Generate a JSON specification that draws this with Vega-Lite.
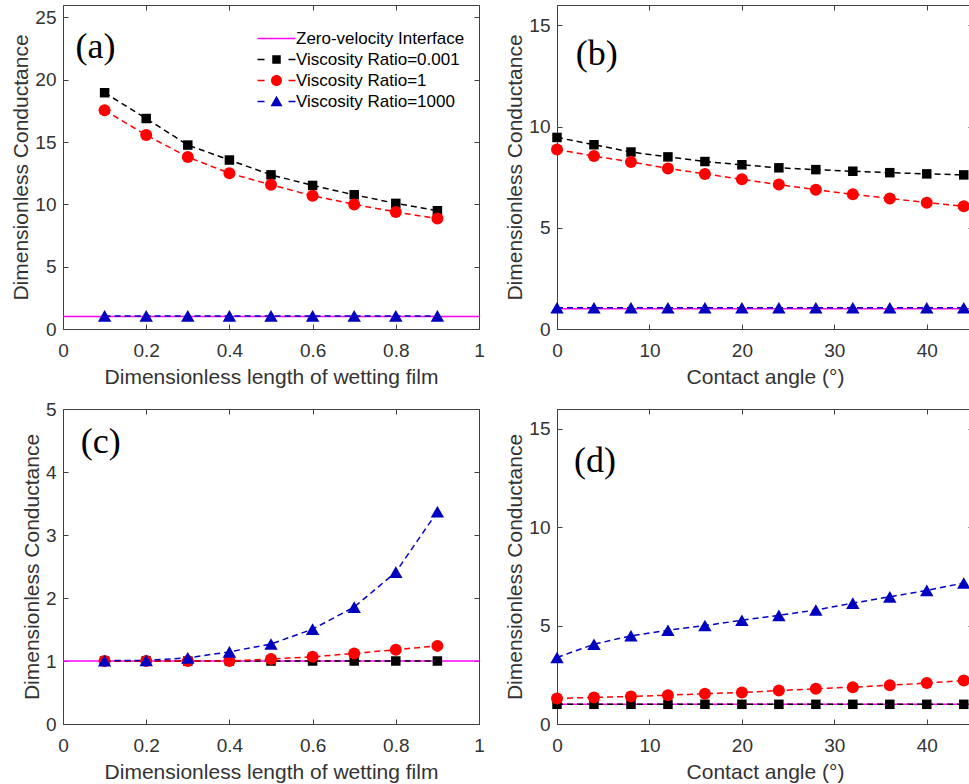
{
  "$schema": "https://vega.github.io/schema/vega-lite/v6.json",
  "padding": {"left": 10, "top": 4, "right": 0, "bottom": 0},
  "background": "white",
  "config": {
    "view": {"stroke": "#404040", "strokeWidth": 1},
    "font": "Liberation Sans",
    "axis": {"grid": false, "domain": false, "tickColor": "#404040", "tickSize": -5, "tickWidth": 1, "labelFlush": false,
      "labelFont": "Liberation Sans", "labelFontSize": 19, "labelColor": "#333333",
      "titleFont": "Liberation Sans", "titleFontSize": 21, "titleFontWeight": "normal", "titleColor": "#333333"},
    "axisX": {"labelPadding": 17, "titlePadding": 6},
    "axisY": {"labelPadding": 12, "titlePadding": 3}
  },
  "datasets": {
    "a": [
      {"x": 0.1, "y": 18.96, "series": "Viscosity Ratio=0.001"}, {"x": 0.2, "y": 16.89, "series": "Viscosity Ratio=0.001"}, {"x": 0.3, "y": 14.76, "series": "Viscosity Ratio=0.001"}, {"x": 0.4, "y": 13.56, "series": "Viscosity Ratio=0.001"}, {"x": 0.5, "y": 12.37, "series": "Viscosity Ratio=0.001"}, {"x": 0.6, "y": 11.52, "series": "Viscosity Ratio=0.001"}, {"x": 0.7, "y": 10.77, "series": "Viscosity Ratio=0.001"}, {"x": 0.8, "y": 10.08, "series": "Viscosity Ratio=0.001"}, {"x": 0.9, "y": 9.49, "series": "Viscosity Ratio=0.001"},
      {"x": 0.1, "y": 17.55, "series": "Viscosity Ratio=1"}, {"x": 0.2, "y": 15.56, "series": "Viscosity Ratio=1"}, {"x": 0.3, "y": 13.8, "series": "Viscosity Ratio=1"}, {"x": 0.4, "y": 12.5, "series": "Viscosity Ratio=1"}, {"x": 0.5, "y": 11.57, "series": "Viscosity Ratio=1"}, {"x": 0.6, "y": 10.69, "series": "Viscosity Ratio=1"}, {"x": 0.7, "y": 10.0, "series": "Viscosity Ratio=1"}, {"x": 0.8, "y": 9.39, "series": "Viscosity Ratio=1"}, {"x": 0.9, "y": 8.86, "series": "Viscosity Ratio=1"},
      {"x": 0.1, "y": 1.05, "series": "Viscosity Ratio=1000"}, {"x": 0.2, "y": 1.05, "series": "Viscosity Ratio=1000"}, {"x": 0.3, "y": 1.05, "series": "Viscosity Ratio=1000"}, {"x": 0.4, "y": 1.05, "series": "Viscosity Ratio=1000"}, {"x": 0.5, "y": 1.05, "series": "Viscosity Ratio=1000"}, {"x": 0.6, "y": 1.05, "series": "Viscosity Ratio=1000"}, {"x": 0.7, "y": 1.05, "series": "Viscosity Ratio=1000"}, {"x": 0.8, "y": 1.05, "series": "Viscosity Ratio=1000"}, {"x": 0.9, "y": 1.05, "series": "Viscosity Ratio=1000"}
    ],
    "b": [
      {"x": 0, "y": 9.46, "series": "Viscosity Ratio=0.001"}, {"x": 4, "y": 9.1, "series": "Viscosity Ratio=0.001"}, {"x": 8, "y": 8.74, "series": "Viscosity Ratio=0.001"}, {"x": 12, "y": 8.5, "series": "Viscosity Ratio=0.001"}, {"x": 16, "y": 8.27, "series": "Viscosity Ratio=0.001"}, {"x": 20, "y": 8.11, "series": "Viscosity Ratio=0.001"}, {"x": 24, "y": 7.96, "series": "Viscosity Ratio=0.001"}, {"x": 28, "y": 7.87, "series": "Viscosity Ratio=0.001"}, {"x": 32, "y": 7.79, "series": "Viscosity Ratio=0.001"}, {"x": 36, "y": 7.72, "series": "Viscosity Ratio=0.001"}, {"x": 40, "y": 7.66, "series": "Viscosity Ratio=0.001"}, {"x": 44, "y": 7.61, "series": "Viscosity Ratio=0.001"},
      {"x": 0, "y": 8.86, "series": "Viscosity Ratio=1"}, {"x": 4, "y": 8.54, "series": "Viscosity Ratio=1"}, {"x": 8, "y": 8.25, "series": "Viscosity Ratio=1"}, {"x": 12, "y": 7.93, "series": "Viscosity Ratio=1"}, {"x": 16, "y": 7.66, "series": "Viscosity Ratio=1"}, {"x": 20, "y": 7.39, "series": "Viscosity Ratio=1"}, {"x": 24, "y": 7.13, "series": "Viscosity Ratio=1"}, {"x": 28, "y": 6.88, "series": "Viscosity Ratio=1"}, {"x": 32, "y": 6.65, "series": "Viscosity Ratio=1"}, {"x": 36, "y": 6.45, "series": "Viscosity Ratio=1"}, {"x": 40, "y": 6.24, "series": "Viscosity Ratio=1"}, {"x": 44, "y": 6.06, "series": "Viscosity Ratio=1"},
      {"x": 0, "y": 1.05, "series": "Viscosity Ratio=1000"}, {"x": 4, "y": 1.05, "series": "Viscosity Ratio=1000"}, {"x": 8, "y": 1.05, "series": "Viscosity Ratio=1000"}, {"x": 12, "y": 1.05, "series": "Viscosity Ratio=1000"}, {"x": 16, "y": 1.05, "series": "Viscosity Ratio=1000"}, {"x": 20, "y": 1.05, "series": "Viscosity Ratio=1000"}, {"x": 24, "y": 1.05, "series": "Viscosity Ratio=1000"}, {"x": 28, "y": 1.05, "series": "Viscosity Ratio=1000"}, {"x": 32, "y": 1.05, "series": "Viscosity Ratio=1000"}, {"x": 36, "y": 1.05, "series": "Viscosity Ratio=1000"}, {"x": 40, "y": 1.05, "series": "Viscosity Ratio=1000"}, {"x": 44, "y": 1.05, "series": "Viscosity Ratio=1000"}
    ],
    "c": [
      {"x": 0.1, "y": 1.0, "series": "Viscosity Ratio=0.001"}, {"x": 0.2, "y": 1.0, "series": "Viscosity Ratio=0.001"}, {"x": 0.3, "y": 1.0, "series": "Viscosity Ratio=0.001"}, {"x": 0.4, "y": 1.0, "series": "Viscosity Ratio=0.001"}, {"x": 0.5, "y": 1.0, "series": "Viscosity Ratio=0.001"}, {"x": 0.6, "y": 1.0, "series": "Viscosity Ratio=0.001"}, {"x": 0.7, "y": 1.0, "series": "Viscosity Ratio=0.001"}, {"x": 0.8, "y": 1.0, "series": "Viscosity Ratio=0.001"}, {"x": 0.9, "y": 1.0, "series": "Viscosity Ratio=0.001"},
      {"x": 0.1, "y": 1.0, "series": "Viscosity Ratio=1"}, {"x": 0.2, "y": 1.0, "series": "Viscosity Ratio=1"}, {"x": 0.3, "y": 1.0, "series": "Viscosity Ratio=1"}, {"x": 0.4, "y": 1.0, "series": "Viscosity Ratio=1"}, {"x": 0.5, "y": 1.03, "series": "Viscosity Ratio=1"}, {"x": 0.6, "y": 1.066, "series": "Viscosity Ratio=1"}, {"x": 0.7, "y": 1.12, "series": "Viscosity Ratio=1"}, {"x": 0.8, "y": 1.18, "series": "Viscosity Ratio=1"}, {"x": 0.9, "y": 1.24, "series": "Viscosity Ratio=1"},
      {"x": 0.1, "y": 1.005, "series": "Viscosity Ratio=1000"}, {"x": 0.2, "y": 1.01, "series": "Viscosity Ratio=1000"}, {"x": 0.3, "y": 1.05, "series": "Viscosity Ratio=1000"}, {"x": 0.4, "y": 1.145, "series": "Viscosity Ratio=1000"}, {"x": 0.5, "y": 1.27, "series": "Viscosity Ratio=1000"}, {"x": 0.6, "y": 1.506, "series": "Viscosity Ratio=1000"}, {"x": 0.7, "y": 1.856, "series": "Viscosity Ratio=1000"}, {"x": 0.8, "y": 2.41, "series": "Viscosity Ratio=1000"}, {"x": 0.9, "y": 3.37, "series": "Viscosity Ratio=1000"}
    ],
    "d": [
      {"x": 0, "y": 1.0, "series": "Viscosity Ratio=0.001"}, {"x": 4, "y": 1.0, "series": "Viscosity Ratio=0.001"}, {"x": 8, "y": 1.0, "series": "Viscosity Ratio=0.001"}, {"x": 12, "y": 1.0, "series": "Viscosity Ratio=0.001"}, {"x": 16, "y": 1.0, "series": "Viscosity Ratio=0.001"}, {"x": 20, "y": 1.0, "series": "Viscosity Ratio=0.001"}, {"x": 24, "y": 1.0, "series": "Viscosity Ratio=0.001"}, {"x": 28, "y": 1.0, "series": "Viscosity Ratio=0.001"}, {"x": 32, "y": 1.0, "series": "Viscosity Ratio=0.001"}, {"x": 36, "y": 1.0, "series": "Viscosity Ratio=0.001"}, {"x": 40, "y": 1.0, "series": "Viscosity Ratio=0.001"}, {"x": 44, "y": 1.0, "series": "Viscosity Ratio=0.001"},
      {"x": 0, "y": 1.3, "series": "Viscosity Ratio=1"}, {"x": 4, "y": 1.35, "series": "Viscosity Ratio=1"}, {"x": 8, "y": 1.4, "series": "Viscosity Ratio=1"}, {"x": 12, "y": 1.46, "series": "Viscosity Ratio=1"}, {"x": 16, "y": 1.54, "series": "Viscosity Ratio=1"}, {"x": 20, "y": 1.6, "series": "Viscosity Ratio=1"}, {"x": 24, "y": 1.7, "series": "Viscosity Ratio=1"}, {"x": 28, "y": 1.79, "series": "Viscosity Ratio=1"}, {"x": 32, "y": 1.87, "series": "Viscosity Ratio=1"}, {"x": 36, "y": 1.97, "series": "Viscosity Ratio=1"}, {"x": 40, "y": 2.08, "series": "Viscosity Ratio=1"}, {"x": 44, "y": 2.21, "series": "Viscosity Ratio=1"},
      {"x": 0, "y": 3.38, "series": "Viscosity Ratio=1000"}, {"x": 4, "y": 4.05, "series": "Viscosity Ratio=1000"}, {"x": 8, "y": 4.48, "series": "Viscosity Ratio=1000"}, {"x": 12, "y": 4.76, "series": "Viscosity Ratio=1000"}, {"x": 16, "y": 5.0, "series": "Viscosity Ratio=1000"}, {"x": 20, "y": 5.27, "series": "Viscosity Ratio=1000"}, {"x": 24, "y": 5.52, "series": "Viscosity Ratio=1000"}, {"x": 28, "y": 5.79, "series": "Viscosity Ratio=1000"}, {"x": 32, "y": 6.14, "series": "Viscosity Ratio=1000"}, {"x": 36, "y": 6.46, "series": "Viscosity Ratio=1000"}, {"x": 40, "y": 6.79, "series": "Viscosity Ratio=1000"}, {"x": 44, "y": 7.16, "series": "Viscosity Ratio=1000"}
    ],
    "legend": [
      {"series": "Zero-velocity Interface"}, {"series": "Viscosity Ratio=0.001"}, {"series": "Viscosity Ratio=1"}, {"series": "Viscosity Ratio=1000"}
    ]
  },
  "columns": 2,
  "spacing": {"row": 11, "column": 19},
  "resolve": {"scale": {"shape": "independent", "fill": "independent"}, "legend": {"shape": "independent", "fill": "independent"}},
  "concat": [
    {
      "width": 416, "height": 324,
      "resolve": {"axis": {"x": "independent", "y": "independent"}},
      "layer": [
        {"data": {"values": [{}]}, "mark": {"type": "rule", "color": "#FF00FF", "strokeWidth": 1.5}, "encoding": {"y": {"datum": 1, "axis": null}}},
        {"data": {"name": "a"}, "mark": {"type": "line", "strokeDash": [6, 4], "strokeWidth": 1.5},
          "encoding": {
            "x": {"field": "x", "type": "quantitative", "scale": {"domain": [0, 1]}, "axis": {"values": [0, 0.2, 0.4, 0.6, 0.8, 1], "format": "~g", "title": "Dimensionless length of wetting film"}},
            "y": {"field": "y", "type": "quantitative", "scale": {"domain": [0, 25]}, "axis": {"values": [0, 5, 10, 15, 20, 25], "format": "~g", "title": "Dimensionless Conductance"}},
            "color": {"field": "series", "type": "nominal", "scale": {"domain": ["Viscosity Ratio=0.001", "Viscosity Ratio=1", "Viscosity Ratio=1000"], "range": ["#000000", "#FF0000", "#0000C0"]}, "legend": null}
          }},
        {"data": {"name": "a"}, "mark": {"type": "point", "filled": true, "opacity": 1},
          "encoding": {
            "x": {"field": "x", "type": "quantitative", "axis": {"orient": "top", "values": [0, 0.2, 0.4, 0.6, 0.8, 1], "labels": false, "title": null}},
            "y": {"field": "y", "type": "quantitative", "axis": {"orient": "right", "values": [0, 5, 10, 15, 20, 25], "labels": false, "title": null}},
            "color": {"field": "series", "type": "nominal", "legend": null},
            "shape": {"condition": [{"test": "datum.series === 'Viscosity Ratio=0.001'", "value": "square"}, {"test": "datum.series === 'Viscosity Ratio=1'", "value": "circle"}], "value": "triangle-up"},
            "size": {"condition": [{"test": "datum.series === 'Viscosity Ratio=0.001'", "value": 90}, {"test": "datum.series === 'Viscosity Ratio=1'", "value": 144}], "value": 180}
          }},
        {"data": {"values": [{}]}, "mark": {"type": "text", "font": "Liberation Serif", "fontSize": 36, "color": "#000000", "align": "center", "baseline": "middle"},
          "encoding": {"x": {"datum": 0.078, "axis": null}, "y": {"datum": 22.64, "axis": null}, "text": {"value": "(a)"}}},
        {"data": {"name": "legend"}, "mark": {"type": "point", "filled": true, "clip": true, "opacity": 1},
          "encoding": {
            "x": {"datum": 5, "axis": null}, "y": {"datum": 1, "axis": null},
            "shape": {"field": "series", "type": "nominal",
              "scale": {"domain": ["Zero-velocity Interface", "Viscosity Ratio=0.001", "Viscosity Ratio=1", "Viscosity Ratio=1000"],
                "range": ["M-1,-0.15H6.6V0.15H-1Z",
                  "M-1,-0.15H0.4V0.15H-1Z M1.95,-0.85H3.65V0.85H1.95Z M5.2,-0.15H6.6V0.15H5.2Z",
                  "M-1,-0.15H0.4V0.15H-1Z M1.7,0A1.1,1.1 0 1,0 3.9,0A1.1,1.1 0 1,0 1.7,0Z M5.2,-0.15H6.6V0.15H5.2Z",
                  "M-1,-0.15H0.4V0.15H-1Z M2.8,-1.15L4.0,0.95H1.6Z M5.2,-0.15H6.6V0.15H5.2Z"]},
              "legend": {"orient": "none", "legendX": 191, "legendY": 25, "title": null, "labelFont": "Liberation Sans", "labelFontSize": 17, "labelColor": "#000000", "labelLimit": 400, "symbolSize": 100, "labelOffset": 25, "rowPadding": 3, "padding": 0, "symbolStrokeWidth": 0}},
            "fill": {"field": "series", "type": "nominal",
              "scale": {"domain": ["Zero-velocity Interface", "Viscosity Ratio=0.001", "Viscosity Ratio=1", "Viscosity Ratio=1000"], "range": ["#FF00FF", "#000000", "#FF0000", "#0000C0"]},
              "legend": {"orient": "none", "legendX": 191, "legendY": 25, "title": null, "labelFont": "Liberation Sans", "labelFontSize": 17, "labelColor": "#000000", "labelLimit": 400, "symbolSize": 100, "labelOffset": 25, "rowPadding": 3, "padding": 0, "symbolStrokeWidth": 0}}
          }}
      ]
    },
    {
      "width": 416, "height": 324,
      "resolve": {"axis": {"x": "independent", "y": "independent"}},
      "layer": [
        {"data": {"values": [{}]}, "mark": {"type": "rule", "color": "#FF00FF", "strokeWidth": 1.5}, "encoding": {"y": {"datum": 1, "axis": null}}},
        {"data": {"name": "b"}, "mark": {"type": "line", "strokeDash": [6, 4], "strokeWidth": 1.5},
          "encoding": {
            "x": {"field": "x", "type": "quantitative", "scale": {"domain": [0, 45]}, "axis": {"values": [0, 10, 20, 30, 40], "title": "Contact angle (°)"}},
            "y": {"field": "y", "type": "quantitative", "scale": {"domain": [0, 15]}, "axis": {"values": [0, 5, 10, 15], "format": "~g", "title": "Dimensionless Conductance"}},
            "color": {"field": "series", "type": "nominal", "legend": null}
          }},
        {"data": {"name": "b"}, "mark": {"type": "point", "filled": true, "opacity": 1},
          "encoding": {
            "x": {"field": "x", "type": "quantitative", "axis": {"orient": "top", "values": [0, 10, 20, 30, 40], "labels": false, "title": null}},
            "y": {"field": "y", "type": "quantitative", "axis": {"orient": "right", "values": [0, 5, 10, 15], "labels": false, "title": null}},
            "color": {"field": "series", "type": "nominal", "legend": null},
            "shape": {"condition": [{"test": "datum.series === 'Viscosity Ratio=0.001'", "value": "square"}, {"test": "datum.series === 'Viscosity Ratio=1'", "value": "circle"}], "value": "triangle-up"},
            "size": {"condition": [{"test": "datum.series === 'Viscosity Ratio=0.001'", "value": 90}, {"test": "datum.series === 'Viscosity Ratio=1'", "value": 144}], "value": 180}
          }},
        {"data": {"values": [{}]}, "mark": {"type": "text", "font": "Liberation Serif", "fontSize": 36, "color": "#000000", "align": "center", "baseline": "middle"},
          "encoding": {"x": {"datum": 4.3, "axis": null}, "y": {"datum": 13.59, "axis": null}, "text": {"value": "(b)"}}}
      ]
    },
    {
      "width": 416, "height": 315,
      "resolve": {"axis": {"x": "independent", "y": "independent"}},
      "layer": [
        {"data": {"values": [{}]}, "mark": {"type": "rule", "color": "#FF00FF", "strokeWidth": 1.5}, "encoding": {"y": {"datum": 1, "axis": null}}},
        {"data": {"name": "c"}, "mark": {"type": "line", "strokeDash": [6, 4], "strokeWidth": 1.5},
          "encoding": {
            "x": {"field": "x", "type": "quantitative", "scale": {"domain": [0, 1]}, "axis": {"values": [0, 0.2, 0.4, 0.6, 0.8, 1], "format": "~g", "title": "Dimensionless length of wetting film"}},
            "y": {"field": "y", "type": "quantitative", "scale": {"domain": [0, 5]}, "axis": {"values": [0, 1, 2, 3, 4, 5], "format": "~g", "title": "Dimensionless Conductance"}},
            "color": {"field": "series", "type": "nominal", "legend": null}
          }},
        {"data": {"name": "c"}, "mark": {"type": "point", "filled": true, "opacity": 1},
          "encoding": {
            "x": {"field": "x", "type": "quantitative", "axis": {"orient": "top", "values": [0, 0.2, 0.4, 0.6, 0.8, 1], "labels": false, "title": null}},
            "y": {"field": "y", "type": "quantitative", "axis": {"orient": "right", "values": [0, 1, 2, 3, 4, 5], "labels": false, "title": null}},
            "color": {"field": "series", "type": "nominal", "legend": null},
            "shape": {"condition": [{"test": "datum.series === 'Viscosity Ratio=0.001'", "value": "square"}, {"test": "datum.series === 'Viscosity Ratio=1'", "value": "circle"}], "value": "triangle-up"},
            "size": {"condition": [{"test": "datum.series === 'Viscosity Ratio=0.001'", "value": 90}, {"test": "datum.series === 'Viscosity Ratio=1'", "value": 144}], "value": 180}
          }},
        {"data": {"values": [{}]}, "mark": {"type": "text", "font": "Liberation Serif", "fontSize": 36, "color": "#000000", "align": "center", "baseline": "middle"},
          "encoding": {"x": {"datum": 0.091, "axis": null}, "y": {"datum": 4.48, "axis": null}, "text": {"value": "(c)"}}}
      ]
    },
    {
      "width": 416, "height": 315,
      "resolve": {"axis": {"x": "independent", "y": "independent"}},
      "layer": [
        {"data": {"values": [{}]}, "mark": {"type": "rule", "color": "#FF00FF", "strokeWidth": 1.5}, "encoding": {"y": {"datum": 1, "axis": null}}},
        {"data": {"name": "d"}, "mark": {"type": "line", "strokeDash": [6, 4], "strokeWidth": 1.5},
          "encoding": {
            "x": {"field": "x", "type": "quantitative", "scale": {"domain": [0, 45]}, "axis": {"values": [0, 10, 20, 30, 40], "title": "Contact angle (°)"}},
            "y": {"field": "y", "type": "quantitative", "scale": {"domain": [0, 15]}, "axis": {"values": [0, 5, 10, 15], "format": "~g", "title": "Dimensionless Conductance"}},
            "color": {"field": "series", "type": "nominal", "legend": null}
          }},
        {"data": {"name": "d"}, "mark": {"type": "point", "filled": true, "opacity": 1},
          "encoding": {
            "x": {"field": "x", "type": "quantitative", "axis": {"orient": "top", "values": [0, 10, 20, 30, 40], "labels": false, "title": null}},
            "y": {"field": "y", "type": "quantitative", "axis": {"orient": "right", "values": [0, 5, 10, 15], "labels": false, "title": null}},
            "color": {"field": "series", "type": "nominal", "legend": null},
            "shape": {"condition": [{"test": "datum.series === 'Viscosity Ratio=0.001'", "value": "square"}, {"test": "datum.series === 'Viscosity Ratio=1'", "value": "circle"}], "value": "triangle-up"},
            "size": {"condition": [{"test": "datum.series === 'Viscosity Ratio=0.001'", "value": 90}, {"test": "datum.series === 'Viscosity Ratio=1'", "value": 144}], "value": 180}
          }},
        {"data": {"values": [{}]}, "mark": {"type": "text", "font": "Liberation Serif", "fontSize": 36, "color": "#000000", "align": "center", "baseline": "middle"},
          "encoding": {"x": {"datum": 4.1, "axis": null}, "y": {"datum": 13.38, "axis": null}, "text": {"value": "(d)"}}}
      ]
    }
  ]
}
